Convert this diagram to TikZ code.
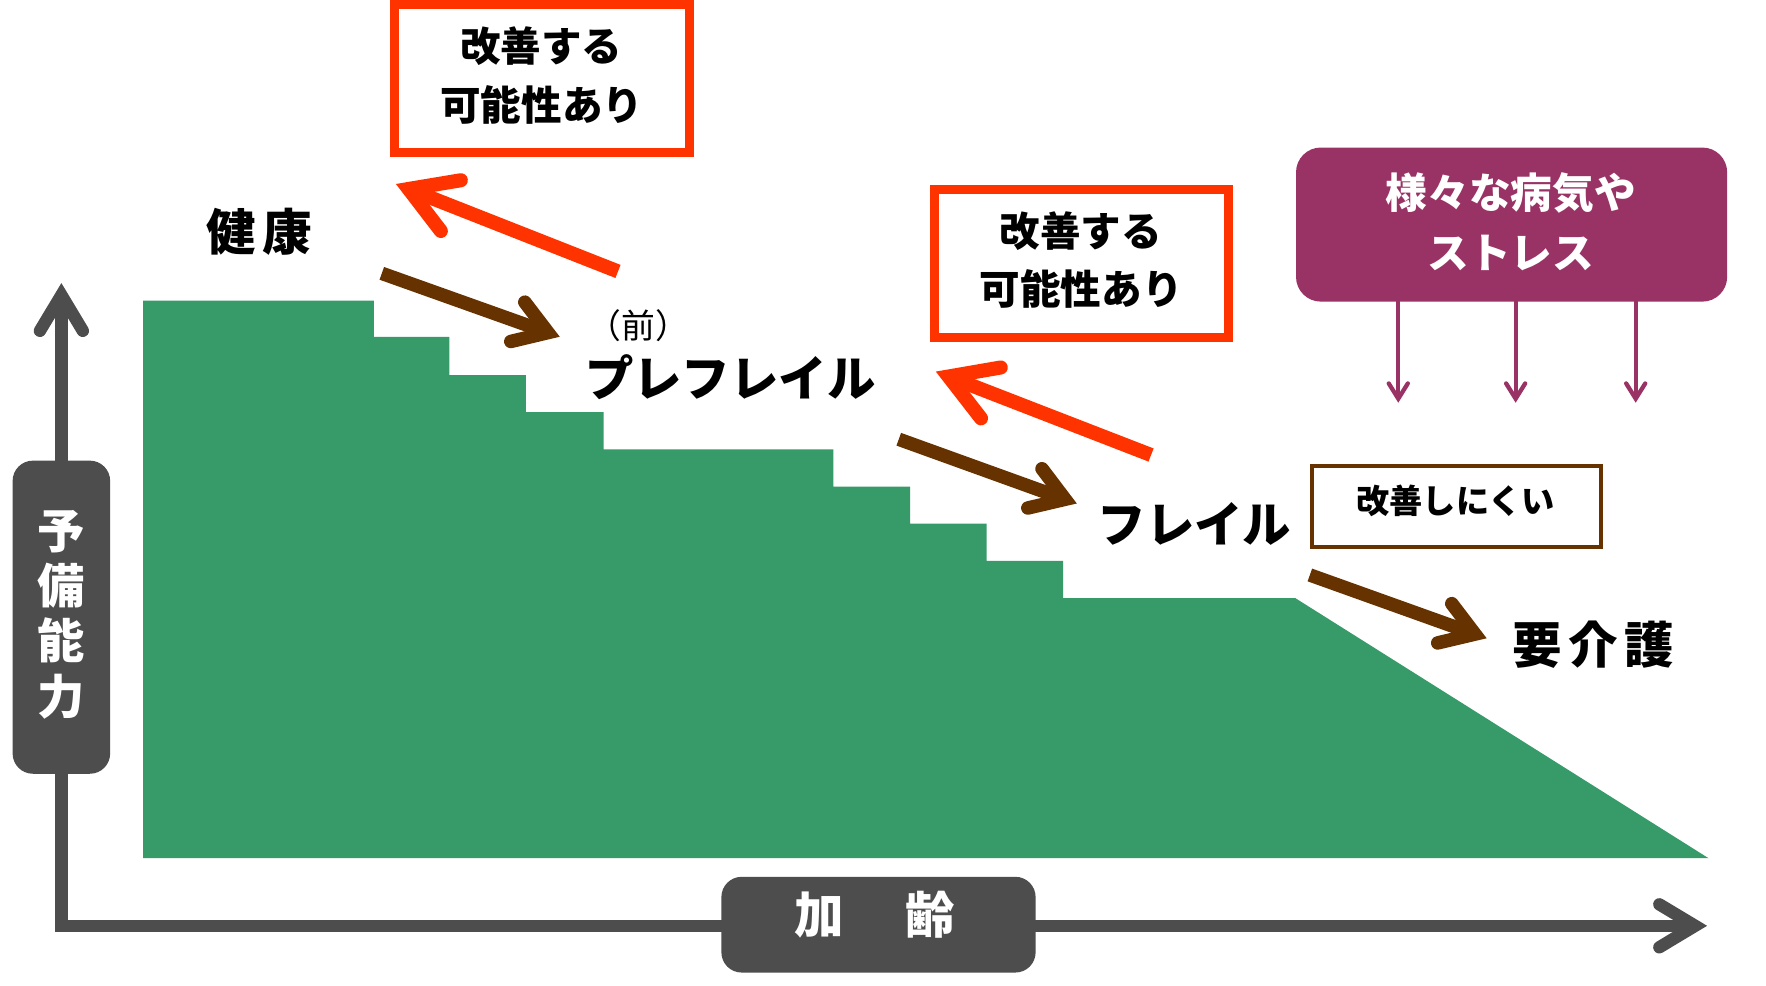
\documentclass[tikz,border=0pt]{standalone}
\usepackage{fontspec}
\newfontfamily\jp{Noto Sans CJK JP}
\usetikzlibrary{calc}
\definecolor{grn}{HTML}{369A69}
\definecolor{rd}{HTML}{FF3300}
\definecolor{brn}{HTML}{663300}
\definecolor{prp}{HTML}{993366}
\definecolor{gry}{HTML}{4D4D4D}
\newcommand{\chev}[5]{%
  \draw[#1,line cap=butt] (#2) -- (#3);
  \draw[#1,line cap=round,line join=miter] ($(#3)!#4!#5:(#2)$) -- (#3) -- ($(#3)!#4!-#5:(#2)$);
}
\begin{document}
\begin{tikzpicture}[x=1pt,y=-1pt,
  jt/.style={inner sep=0pt, anchor=base, font=\jp\bfseries\fontsize{#1}{#1}\selectfont},
  jr/.style={inner sep=0pt, anchor=base, font=\jp\fontsize{#1}{#1}\selectfont},
  redarrow/.style={draw=rd, line width=12.5pt},
  brownarrow/.style={draw=brn, line width=12pt},
  axisline/.style={draw=gry, line width=11pt},
  purplearrow/.style={draw=prp, line width=3.8pt},
  redbox/.style={draw=rd, line width=8pt, fill=white, inner sep=0pt, minimum width=261.5pt, minimum height=131.3pt},
  labelbox/.style={fill=gry, rounded corners=18pt, inner sep=0pt},
  whitetext/.style={text=white}]
\fill[white] (0,0) rectangle (1568,875);
\useasboundingbox (0,0) rectangle (1568,875);

% reserve area
\fill[grn] (127,267) -- (332,267) -- (332,299) -- (399,299) -- (399,333) -- (467,333) -- (467,366)
  -- (536,366) -- (536,399) -- (740,399) -- (740,432) -- (808,432) -- (808,465) -- (876,465)
  -- (876,498) -- (944,498) -- (944,531) -- (1150,531) -- (1517,762) -- (127,762) -- cycle;

% axes
\coordinate (corner) at (54.5,822);
\coordinate (ytip) at (54.5,262);
\coordinate (xtip) at (1505,822);
\draw[axisline, line join=miter] (ytip) -- (corner) -- (xtip);
\draw[axisline, line cap=round, line join=miter] ($(ytip)!37pt!31:(corner)$) -- (ytip) -- ($(ytip)!37pt!-31:(corner)$);
\draw[axisline, line cap=round, line join=miter] ($(xtip)!37pt!31:(corner)$) -- (xtip) -- ($(xtip)!37pt!-31:(corner)$);

% axis labels
\node[labelbox, minimum width=86.6pt, minimum height=278pt] (ylab) at (54.5,548) {};
\node[jt=42, whitetext] (y1) at (54.5,487) {予};
\node[jt=42, whitetext] (y2) at (54.5,536) {備};
\node[jt=42, whitetext] (y3) at (54.5,585) {能};
\node[jt=42, whitetext] (y4) at (54.5,634) {力};
\node[labelbox, minimum width=279pt, minimum height=85pt] (xlab) at (780,821) {};
\node[jt=44, whitetext] (xtext) at (777,829.2) {加\hspace{54.5pt}齢};

% stage labels
\node[jt=44] (kenko) at (230,222.3) {健\hspace{6pt}康};
\node[jr=30] (mae) at (567,300.9) {（前）};
\node[jt=43] (pre) at (648.5,352.3) {プレフレイル};
\node[jt=43] (frail) at (1060.5,481.8) {フレイル};
\node[jt=44] (kaigo) at (1414.5,588.7) {要\hspace{6pt}介\hspace{6pt}護};

% red boxes
\node[redbox] (box1) at (481.3,69.4) {};
\node[jt=36] (b1a) at (480.5,54.4) {改善する};
\node[jt=36] (b1b) at (481,107.4) {可能性あり};
\node[redbox] (box2) at (960.1,233.8) {};
\node[jt=36] (b2a) at (959.5,218.5) {改善する};
\node[jt=36] (b2b) at (960,270.7) {可能性あり};

% brown box
\node[draw=brn, line width=3.5pt, inner sep=0pt, minimum width=256.5pt, minimum height=72pt] (box3) at (1293,449.75) {};
\node[jt=29.5] (b3) at (1292.5,456.2) {改善しにくい};

% purple box and arrows
\coordinate (pa1) at (1241.5,262);
\coordinate (pa2) at (1345.7,262);
\coordinate (pa3) at (1452.3,262);
\coordinate (pt1) at (1241.5,354);
\coordinate (pt2) at (1345.7,354);
\coordinate (pt3) at (1452.3,354);
\chev{purplearrow}{pa1}{pt1}{16pt}{32}
\chev{purplearrow}{pa2}{pt2}{16pt}{32}
\chev{purplearrow}{pa3}{pt3}{16pt}{32}
\node[fill=prp, rounded corners=22pt, inner sep=0pt, minimum width=382.8pt, minimum height=136.8pt] (stress) at (1342.1,199.4) {};
\node[jt=37, whitetext] (s1) at (1341.5,185) {様々な病気や};
\node[jt=37, whitetext] (s2) at (1341.5,238.5) {ストレス};

% red arrows (improvement)
\coordinate (r1tail) at (548.7,241);
\coordinate (r1tip) at (362.8,167.8);
\coordinate (r2tail) at (1022,404);
\coordinate (r2tip) at (842.2,334.3);
\chev{redarrow}{r1tail}{r1tip}{47pt}{31}
\chev{redarrow}{r2tail}{r2tip}{47pt}{31}

% brown arrows (decline)
\coordinate (b1tail) at (339,242.7);
\coordinate (b1tip) at (486.6,295.3);
\coordinate (b2tail) at (798,390);
\coordinate (b2tip) at (945.7,443.3);
\coordinate (b3tail) at (1163,510.5);
\coordinate (b3tip) at (1309.6,563);
\chev{brownarrow}{b1tail}{b1tip}{34pt}{33}
\chev{brownarrow}{b2tail}{b2tip}{34pt}{33}
\chev{brownarrow}{b3tail}{b3tip}{34pt}{33}
\end{tikzpicture}
\end{document}
